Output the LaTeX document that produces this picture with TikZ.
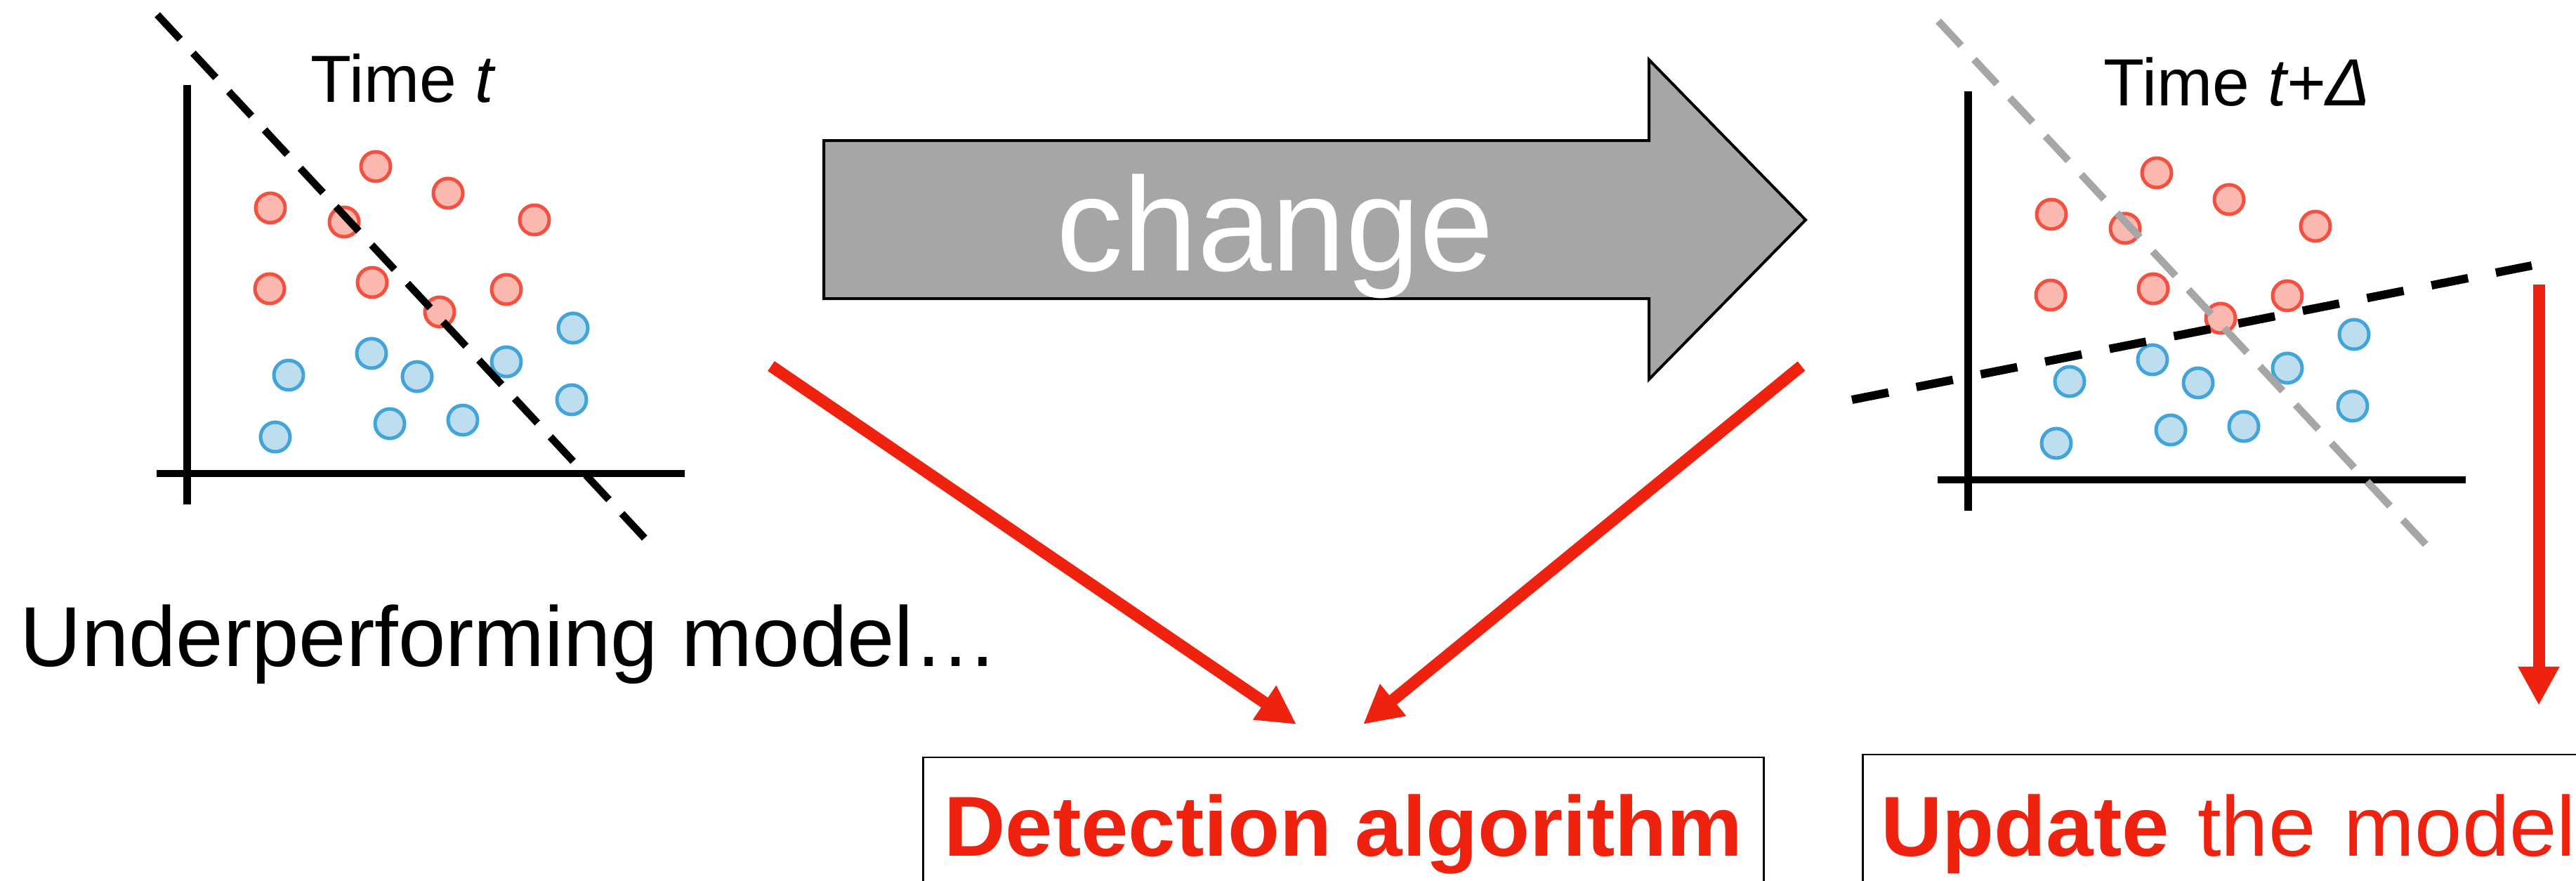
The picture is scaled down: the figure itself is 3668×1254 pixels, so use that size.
\documentclass[tikz,border=0pt]{standalone}
\usepackage{fontspec}
\setmainfont{Liberation Sans}
\usetikzlibrary{arrows.meta}

\definecolor{dotredfill}{RGB}{250,184,176}
\definecolor{dotredline}{RGB}{244,80,64}
\definecolor{dotbluefill}{RGB}{190,222,240}
\definecolor{dotblueline}{RGB}{66,165,218}
\definecolor{signalred}{RGB}{238,34,14}
\definecolor{shadegray}{RGB}{166,166,166}

\tikzset{
  axisline/.style={line width=0.105cm},
  reddot/.style={fill=dotredfill, draw=dotredline, line width=0.05cm},
  bluedot/.style={fill=dotbluefill, draw=dotblueline, line width=0.05cm},
  boundary/.style={line width=0.105cm, dash pattern=on 0.476cm off 0.27cm},
  newboundary/.style={line width=0.12cm, dash pattern=on 0.53cm off 0.404cm},
  flowarrow/.style={draw=signalred, line width=0.17cm,
    -{Triangle[width=0.55cm,length=0.55cm]}},
  bigfont/.style={font=\fontsize{34.44}{40}\selectfont},
  timelabel/.style={anchor=base west, inner sep=0, font=\fontsize{27}{32}\selectfont},
  taskbox/.style={draw, line width=0.025cm, text=signalred, bigfont, inner ysep=0},
  scatter/.pic={
    \draw[axisline] (266.5,121) -- (266.5,718);
    \draw[axisline] (223,674) -- (975,674);
    \foreach \u/\v in {535/237, 638/275, 385/296, 490/316, 761/313,
                       384/411, 530/402, 626/444, 721/412}
      \draw[reddot] (\u,\v) circle[radius=21];
    \foreach \u/\v in {816/467, 529/503, 721/515, 411/534, 594/536,
                       814/569, 392/622, 555/603, 659/598}
      \draw[bluedot] (\u,\v) circle[radius=21];
  }
}

\begin{document}
\begin{tikzpicture}[x=0.01cm, y=-0.01cm]
\useasboundingbox (0,0) rectangle (3668,1254);
\clip (0,0) rectangle (3668,1254);

% scatter plot at time t with its decision boundary
\pic at (0,0) {scatter};
\draw[boundary] (224,21) -- (918,766);
\node[timelabel] (timeA) at (442,145) {Time \textit{t}};

% scatter plot at time t+Delta: old boundary in gray, new one in black
\pic at (2536,9) {scatter};
\draw[boundary, shadegray] (2760,30) -- (3454,775);
\draw[newboundary] (2637,569) -- (3605,378);
\node[timelabel] (timeB) at (2995,150) {Time \textit{t+Δ}};

% big block arrow
\draw[fill=shadegray, line width=0.04cm, line join=miter]
  (1173,200) -- (2348,200) -- (2348,85) -- (2571,313) -- (2348,540)
  -- (2348,425) -- (1173,425) -- cycle;
\node[anchor=base, inner sep=0, text=white, font=\fontsize{54}{60}\selectfont]
  (chg) at (1816,385) {change};

% caption under the first plot
\node[anchor=base west, inner sep=0, bigfont] (under) at (28,948)
  {Underperforming model…};

% boxes
\node[taskbox, anchor=base, inner xsep=0.3cm, text height=1.4cm, text depth=1.2cm]
  (detect) at (1913,1218) {\bfseries Detection algorithm};
\node[taskbox, anchor=base west, inner xsep=0.26cm, text width=10.6cm, align=left,
  text height=1.44cm, text depth=1.2cm]
  (update) at (2651,1218) {\textbf{Update} the model};

% red arrows
\coordinate (la0) at (1098,521);
\coordinate (la1) at (1846,1031);
\coordinate (ra0) at (2565,521);
\coordinate (ra1) at (1941,1031);
\coordinate (ua0) at (3615,405);
\coordinate (ua1) at (3615,1004);
\draw[flowarrow] (la0) -- (la1);
\draw[flowarrow] (ra0) -- (ra1);
\draw[flowarrow] (ua0) -- (ua1);
\end{tikzpicture}
\end{document}
